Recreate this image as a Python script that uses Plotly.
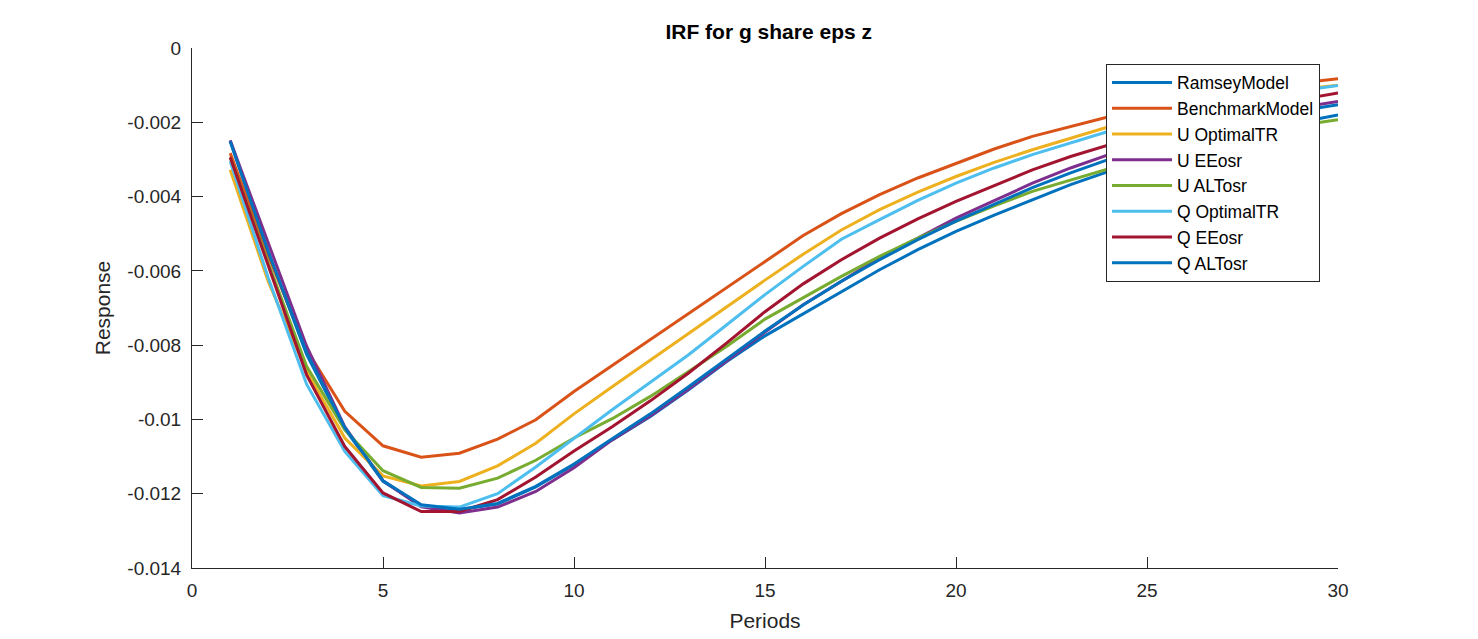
import plotly.graph_objects as go

periods = list(range(1, 31))

ramsey_model = [-0.00249, -0.00550, -0.00825, -0.01025, -0.01167, -0.01231, -0.01243, -0.01228, -0.01182, -0.01122,
                -0.01055, -0.00992, -0.00920, -0.00844, -0.00775, -0.00715, -0.00655, -0.00597, -0.00543, -0.00494,
                -0.00450, -0.00408, -0.00368, -0.00332, -0.00300, -0.00270, -0.00245, -0.00220, -0.00200, -0.00180]
benchmark_model = [-0.00283, -0.00560, -0.00812, -0.00978, -0.01071, -0.01102, -0.01091, -0.01053, -0.01001, -0.00925,
                   -0.00855, -0.00785, -0.00715, -0.00645, -0.00574, -0.00505, -0.00446, -0.00395, -0.00350, -0.00310,
                   -0.00272, -0.00238, -0.00211, -0.00185, -0.00162, -0.00141, -0.00123, -0.00107, -0.00094, -0.00083]
u_optimaltr = [-0.00328, -0.00630, -0.00870, -0.01050, -0.01152, -0.01179, -0.01167, -0.01125, -0.01064, -0.00985,
               -0.00912, -0.00840, -0.00768, -0.00695, -0.00625, -0.00555, -0.00490, -0.00435, -0.00388, -0.00346,
               -0.00308, -0.00274, -0.00242, -0.00212, -0.00186, -0.00163, -0.00143, -0.00126, -0.00111, -0.00100]
u_eeosr = [-0.00249, -0.00525, -0.00803, -0.01020, -0.01165, -0.01235, -0.01252, -0.01236, -0.01194, -0.01130,
           -0.01055, -0.00990, -0.00918, -0.00842, -0.00765, -0.00691, -0.00628, -0.00565, -0.00512, -0.00458,
           -0.00411, -0.00364, -0.00323, -0.00287, -0.00255, -0.00225, -0.00199, -0.00177, -0.00160, -0.00144]
u_altosr = [-0.00295, -0.00580, -0.00857, -0.01028, -0.01138, -0.01183, -0.01185, -0.01158, -0.01110, -0.01050,
            -0.00998, -0.00938, -0.00871, -0.00803, -0.00730, -0.00673, -0.00615, -0.00561, -0.00512, -0.00467,
            -0.00425, -0.00386, -0.00355, -0.00324, -0.00295, -0.00269, -0.00246, -0.00225, -0.00208, -0.00193]
q_optimaltr = [-0.00305, -0.00620, -0.00905, -0.01086, -0.01205, -0.01233, -0.01236, -0.01200, -0.01128, -0.01050,
               -0.00974, -0.00900, -0.00826, -0.00745, -0.00664, -0.00588, -0.00515, -0.00462, -0.00410, -0.00364,
               -0.00323, -0.00287, -0.00256, -0.00224, -0.00196, -0.00171, -0.00150, -0.00132, -0.00115, -0.00101]
q_eeosr = [-0.00294, -0.00588, -0.00880, -0.01073, -0.01198, -0.01248, -0.01248, -0.01216, -0.01155, -0.01085,
           -0.01020, -0.00950, -0.00875, -0.00794, -0.00710, -0.00635, -0.00570, -0.00512, -0.00460, -0.00413,
           -0.00370, -0.00328, -0.00292, -0.00260, -0.00230, -0.00204, -0.00180, -0.00158, -0.00139, -0.00121]
q_altosr = [-0.00252, -0.00550, -0.00820, -0.01022, -0.01165, -0.01230, -0.01242, -0.01226, -0.01180, -0.01120,
            -0.01052, -0.00985, -0.00912, -0.00836, -0.00762, -0.00692, -0.00628, -0.00570, -0.00516, -0.00466,
            -0.00420, -0.00376, -0.00336, -0.00300, -0.00267, -0.00237, -0.00210, -0.00188, -0.00169, -0.00153]

series_names = ["RamseyModel", "BenchmarkModel", "U OptimalTR", "U EEosr",
                "U ALTosr", "Q OptimalTR", "Q EEosr", "Q ALTosr"]
series_values = [ramsey_model, benchmark_model, u_optimaltr, u_eeosr,
                 u_altosr, q_optimaltr, q_eeosr, q_altosr]
colors = ["#0072BD", "#D95319", "#EDB120", "#7E2F8E",
          "#77AC30", "#4DBEEE", "#A2142F", "#0072BD"]

x_ticks = [0, 5, 10, 15, 20, 25, 30]
y_ticks = [-0.014, -0.012, -0.010, -0.008, -0.006, -0.004, -0.002, 0]
y_tick_labels = ["-0.014", "-0.012", "-0.01", "-0.008", "-0.006", "-0.004", "-0.002", "0"]

FONT = "Liberation Sans, Arial, sans-serif"
AX = "#262626"

fig = go.Figure()
for name, vals, col in zip(series_names, series_values, colors):
    fig.add_trace(go.Scatter(x=periods, y=vals, mode="lines", name=name,
                             line=dict(color=col, width=3)))

fig.update_layout(
    width=1470, height=631,
    margin=dict(l=184, r=140, t=40, b=71),
    paper_bgcolor="white", plot_bgcolor="white",
    font=dict(family=FONT, color=AX),
    title=dict(text="<b>IRF for g share eps z</b>", x=0.5175, xanchor="center",
               y=1 - 24 / 631, yanchor="middle",
               font=dict(family=FONT, size=21, color="black")),
    legend=dict(x=0.9843, xanchor="right", y=0.9698, yanchor="top",
                bgcolor="white", bordercolor=AX, borderwidth=1,
                font=dict(family=FONT, size=17.5, color="black"),
                tracegroupgap=0, itemwidth=60,
                entrywidth=162, entrywidthmode="pixels"),
    showlegend=True,
)
fig.update_xaxes(range=[0, 30], tickvals=x_ticks, ticks="inside", ticklen=11,
                 tickcolor=AX, showline=True, linecolor=AX, linewidth=1,
                 showgrid=False, zeroline=False, mirror=False,
                 tickfont=dict(family=FONT, size=19, color=AX),
                 ticklabelstandoff=5,
                 title=dict(text="Periods", font=dict(family=FONT, size=21, color=AX), standoff=13))
fig.update_yaxes(range=[-0.014, 0], tickvals=y_ticks, ticktext=y_tick_labels,
                 ticks="inside", ticklen=11, tickcolor=AX,
                 showline=True, linecolor=AX, linewidth=1,
                 showgrid=False, zeroline=False, mirror=False,
                 tickfont=dict(family=FONT, size=19, color=AX),
                 ticklabelstandoff=6,
                 title=dict(text="Response", font=dict(family=FONT, size=21, color=AX), standoff=10))

fig.write_html("out.html")
